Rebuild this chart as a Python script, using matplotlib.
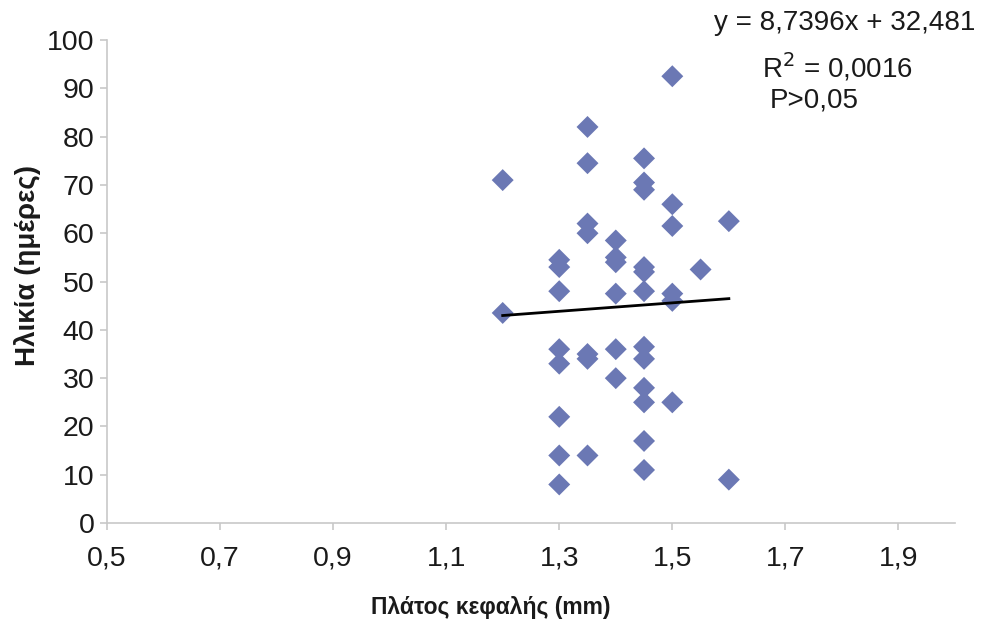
import matplotlib
matplotlib.use("Agg")
import matplotlib.pyplot as plt
import numpy as np

plt.rcParams['font.family'] = ['Liberation Sans', 'DejaVu Sans']

# Head width (mm) and age (days)
head_width = [
    1.2, 1.2,
    1.3, 1.3, 1.3, 1.3, 1.3, 1.3, 1.3, 1.3,
    1.35, 1.35, 1.35, 1.35, 1.35, 1.35, 1.35,
    1.4, 1.4, 1.4, 1.4, 1.4, 1.4,
    1.45, 1.45, 1.45, 1.45, 1.45, 1.45, 1.45, 1.45, 1.45, 1.45, 1.45, 1.45,
    1.5, 1.5, 1.5, 1.5, 1.5, 1.5,
    1.55,
    1.6, 1.6,
]
age_days = [
    71, 43.5,
    54.5, 53, 48, 36, 33, 22, 14, 8,
    82, 74.5, 62, 60, 35, 34, 14,
    58.5, 55, 54, 47.5, 36, 30,
    75.5, 70.5, 69, 53, 52, 48, 36.5, 34, 28, 25, 17, 11,
    92.5, 66, 61.5, 47.5, 46, 25,
    52.5,
    62.5, 9,
]

slope = 8.7396
intercept = 32.481
x_ticks = [0.5, 0.7, 0.9, 1.1, 1.3, 1.5, 1.7, 1.9]
y_ticks = list(range(0, 101, 10))

fig = plt.figure(figsize=(9.81, 6.31), dpi=100)
ax = fig.add_axes([0.109, 0.171, 0.8645, 0.7656])

ax.scatter(head_width, age_days, marker='D', s=125, color='#6B78B4',
           edgecolors='none', zorder=3)

# Linear trend line across the data range
fit_x = np.array([min(head_width), max(head_width)])
ax.plot(fit_x, slope * fit_x + intercept, color='black', linewidth=2, zorder=4)

ax.set_xlim(0.5, 2.0)
ax.set_ylim(0, 100)
ax.set_xticks(x_ticks)
ax.set_xticklabels([f"{t:.1f}".replace('.', ',') for t in x_ticks])
ax.set_yticks(y_ticks)

for side in ['top', 'right']:
    ax.spines[side].set_visible(False)
for side in ['left', 'bottom']:
    ax.spines[side].set_color('#C8C8C8')
    ax.spines[side].set_linewidth(1.2)

ax.tick_params(axis='both', colors='#C8C8C8', labelcolor='#1A1A1A',
               labelsize=20.5, length=5, width=1.2)
ax.tick_params(axis='x', pad=11)
ax.tick_params(axis='y', pad=4)

ax.set_xlabel("Πλάτος κεφαλής (mm)", fontsize=16.5, fontweight='bold',
              color='#1A1A1A')
ax.set_ylabel("Ηλικία (ημέρες)", fontsize=20, fontweight='bold',
              color='#1A1A1A')
ax.xaxis.set_label_coords(0.453, -0.151)
ax.yaxis.set_label_coords(-0.078, 0.534)

fig.text(0.994, 0.964, "y = 8,7396x + 32,481", fontsize=20, ha='right',
         va='center', color='#1A1A1A')
fig.text(0.854, 0.893, "R$^2$ = 0,0016", fontsize=20, ha='center',
         va='center', color='#1A1A1A')
fig.text(0.785, 0.840, "P>0,05", fontsize=20, ha='left',
         va='center', color='#1A1A1A')

fig.savefig("out.png", dpi=100, facecolor='white')
